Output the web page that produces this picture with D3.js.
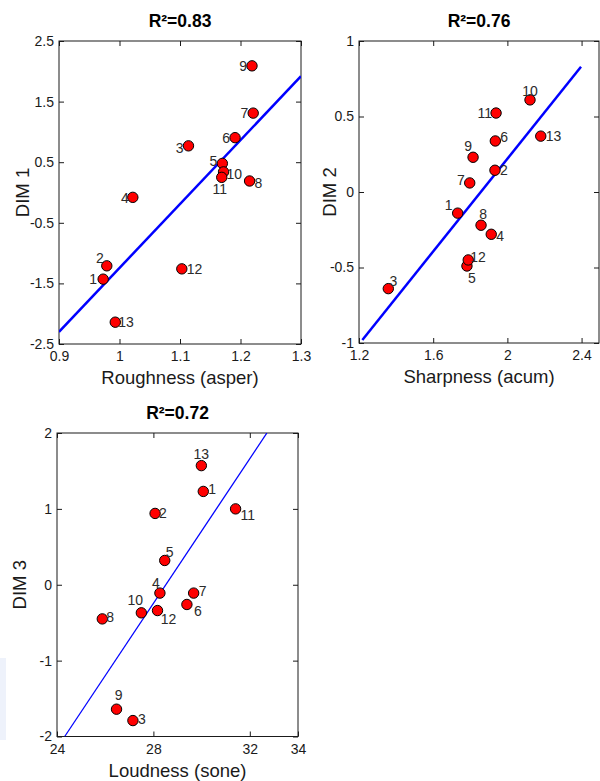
<!DOCTYPE html>
<html lang="en">
  <head>
    <meta charset="UTF-8" />
    <script src="https://d3js.org/d3.v7.min.js"></script>
    <title>DIM vs psychoacoustic metrics</title>
    <style type="text/css">
      body { margin: 0; background: #fff; }
      svg { display: block; font-family: 'Liberation Sans', Arial, sans-serif; }
    </style>
  </head>
  <body>
    <svg width="600" height="781"></svg>
  </body>
  <script type="text/javascript">
    // data (13 stimuli)
    const ids = [1, 2, 3, 4, 5, 6, 7, 8, 9, 10, 11, 12, 13];
    const roughness = [0.973, 0.979, 1.114, 1.022, 1.170, 1.191, 1.221, 1.215, 1.219, 1.172, 1.169, 1.103, 0.993];
    const dim1 = [-1.43, -1.21, 0.77, -0.08, 0.48, 0.905, 1.31, 0.19, 2.09, 0.34, 0.25, -1.26, -2.14];
    const sharpness = [1.732, 1.933, 1.358, 1.913, 1.782, 1.935, 1.797, 1.858, 1.815, 2.122, 1.939, 1.789, 2.18];
    const dim2 = [-0.14, 0.144, -0.64, -0.28, -0.49, 0.338, 0.06, -0.22, 0.23, 0.61, 0.523, -0.45, 0.37];
    const loudness = [30.07, 28.07, 27.15, 28.27, 28.47, 29.39, 29.67, 25.88, 26.47, 27.5, 31.41, 28.17, 29.99];
    const dim3 = [1.23, 0.94, -1.79, -0.11, 0.32, -0.26, -0.11, -0.45, -1.64, -0.37, 1.0, -0.34, 1.57];

    // regression line end points
    const fit1X = [0.9, 1.3], fit1Y = [-2.3, 1.92];
    const fit2X = [1.218, 2.397], fit2Y = [-0.98, 0.83];
    const fit3X = [24.32, 32.71], fit3Y = [-2, 2];

    const titles = ['R\u00B2=0.83', 'R\u00B2=0.76', 'R\u00B2=0.72'];
    const xLabels = ['Roughness (asper)', 'Sharpness (acum)', 'Loudness (sone)'];
    const yLabels = ['DIM 1', 'DIM 2', 'DIM 3'];
    const xTicks1 = [0.9, 1, 1.1, 1.2, 1.3], yTicks1 = [-2.5, -1.5, -0.5, 0.5, 1.5, 2.5];
    const xTicks2 = [1.2, 1.6, 2, 2.4], yTicks2 = [-1, -0.5, 0, 0.5, 1];
    const xTicks3 = [24, 28, 32, 34], yTicks3 = [-2, -1, 0, 1, 2];

    // label placement per point: [dx, dy, anchor]
    const place1 = [[-6, 5, 'end'], [-7, -3, 'middle'], [-5, 7, 'end'], [-4, 6, 'end'], [-5, 3, 'end'],
      [-5, 5, 'end'], [-5, 5, 'end'], [5, 7, 'start'], [-5, 5, 'end'], [3, 7, 'start'],
      [-2, 17, 'middle'], [5, 5, 'start'], [3, 5, 'start']];
    const place2 = [[-9, -3, 'middle'], [5, 5, 'start'], [5, -3, 'middle'], [5, 7, 'start'], [5, 17, 'middle'],
      [5, 1, 'start'], [-5, 2, 'end'], [2, -6, 'middle'], [-5, -6, 'middle'], [0, -4, 'middle'],
      [-4, 5, 'end'], [2, 2, 'start'], [5, 5, 'start']];
    const place3 = [[5, 3, 'start'], [4, 5, 'start'], [5, 3, 'start'], [-4, -5, 'middle'], [5, -3, 'middle'],
      [11, 12, 'middle'], [5, 3, 'start'], [4, 3, 'start'], [2, -9, 'middle'], [-6, -8, 'middle'],
      [5, 11, 'start'], [11, 13, 'middle'], [0, -7, 'middle']];

    const panels = [
      { box: [59, 41, 301, 344], xd: [0.9, 1.3], yd: [-2.5, 2.5], xs: roughness, ys: dim1, fx: fit1X, fy: fit1Y,
        xt: xTicks1, yt: yTicks1, place: place1, lw: 2.5, yLabX: 29 },
      { box: [359, 41, 599, 343], xd: [1.2, 2.494], yd: [-1, 1], xs: sharpness, ys: dim2, fx: fit2X, fy: fit2Y,
        xt: xTicks2, yt: yTicks2, place: place2, lw: 2.5, yLabX: 336 },
      { box: [57, 433, 298, 736.5], xd: [24, 34], yd: [-2, 2], xs: loudness, ys: dim3, fx: fit3X, fy: fit3Y,
        xt: xTicks3, yt: yTicks3, place: place3, lw: 1.3, yLabX: 26 }
    ];

    const svg = d3.select('svg');

    // faint strip at the left edge of the screenshot
    svg.append('rect').attr('x', 0).attr('y', 658).attr('width', 6).attr('height', 82).attr('fill', '#eef2fb');

    panels.forEach((p, i) => {
      const [x0, y0, x1, y1] = p.box;
      const x = d3.scaleLinear().domain(p.xd).range([x0, x1]);
      const y = d3.scaleLinear().domain(p.yd).range([y1, y0]);
      const g = svg.append('g');
      const ink = '#1a1a1a';

      // axes with inward ticks on all four sides
      const fmt = (d) => String(d);
      g.append('g').attr('transform', `translate(0,${y1})`)
        .call(d3.axisBottom(x).tickValues(p.xt).tickFormat(fmt).tickSize(-5).tickPadding(7.5));
      g.append('g').attr('transform', `translate(${x0},0)`)
        .call(d3.axisLeft(y).tickValues(p.yt).tickFormat(fmt).tickSize(-5).tickPadding(5));
      g.append('g').attr('transform', `translate(0,${y0})`)
        .call(d3.axisTop(x).tickValues(p.xt).tickFormat('').tickSize(-5));
      g.append('g').attr('transform', `translate(${x1},0)`)
        .call(d3.axisRight(y).tickValues(p.yt).tickFormat('').tickSize(-5));
      g.selectAll('.domain').remove();
      g.selectAll('.tick line').attr('stroke', ink);
      g.selectAll('.tick text').attr('font-size', 14).attr('fill', ink).attr('font-family', null);

      g.append('rect').attr('x', x0).attr('y', y0).attr('width', x1 - x0).attr('height', y1 - y0)
        .attr('fill', 'none').attr('stroke', ink).attr('stroke-width', 1);

      // regression line
      const clipId = 'clip' + i;
      g.append('clipPath').attr('id', clipId).append('rect')
        .attr('x', x0).attr('y', y0).attr('width', x1 - x0).attr('height', y1 - y0);
      g.append('line').attr('clip-path', `url(#${clipId})`)
        .attr('x1', x(p.fx[0])).attr('y1', y(p.fy[0]))
        .attr('x2', x(p.fx[1])).attr('y2', y(p.fy[1]))
        .attr('stroke', '#0000ff').attr('stroke-width', p.lw);

      // points
      g.selectAll('.pt').data(ids).join('circle').attr('class', 'pt')
        .attr('cx', (d, k) => x(p.xs[k])).attr('cy', (d, k) => y(p.ys[k]))
        .attr('r', 5.2).attr('fill', '#ff0000').attr('stroke', '#000').attr('stroke-width', 1);

      // point labels
      g.selectAll('.lab').data(ids).join('text').attr('class', 'lab')
        .attr('x', (d, k) => x(p.xs[k]) + p.place[k][0])
        .attr('y', (d, k) => y(p.ys[k]) + p.place[k][1])
        .attr('text-anchor', (d, k) => p.place[k][2])
        .attr('font-size', 14).attr('fill', '#2b2b2b')
        .text((d) => d);

      // titles and axis labels
      const cx = (x0 + x1) / 2;
      g.append('text').attr('x', cx).attr('y', y0 - 14.5).attr('text-anchor', 'middle')
        .attr('font-size', 17.5).attr('font-weight', 'bold').attr('fill', '#000').text(titles[i]);
      g.append('text').attr('x', cx).attr('y', y1 + 40).attr('text-anchor', 'middle')
        .attr('font-size', 18.5).attr('fill', ink).text(xLabels[i]);
      g.append('text').attr('transform', `translate(${p.yLabX},${(y0 + y1) / 2}) rotate(-90)`)
        .attr('text-anchor', 'middle').attr('font-size', 18.5).attr('fill', ink).text(yLabels[i]);
    });
  </script>
</html>
